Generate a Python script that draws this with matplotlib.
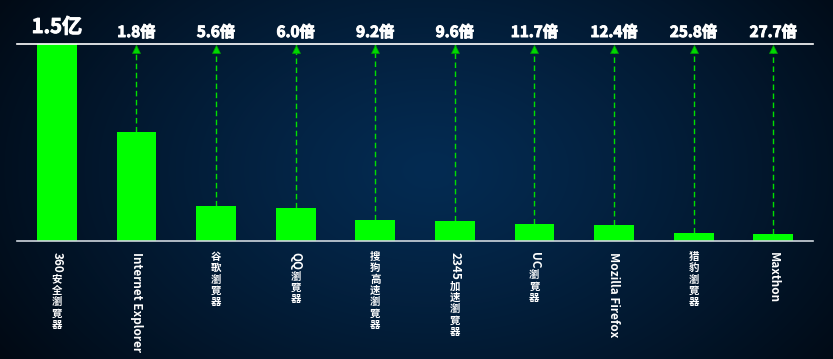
import numpy as np
import matplotlib
matplotlib.use("Agg")
import matplotlib.pyplot as plt
import matplotlib.patheffects as pe
from matplotlib.font_manager import FontProperties
from matplotlib.textpath import text_to_path
from matplotlib.transforms import offset_copy

plt.rcParams['font.family'] = ['Noto Sans CJK SC', 'DejaVu Sans']

# ---- data ----
browsers = ["360安全瀏覽器", "Internet Explorer", "谷歌瀏覽器", "QQ瀏覽器", "搜狗高速瀏覽器",
            "2345加速瀏覽器", "UC瀏覽器", "Mozilla Firefox", "猎豹瀏覽器", "Maxthon"]
users_yi = [1.5, 0.833, 0.268, 0.25, 0.163, 0.156, 0.128, 0.121, 0.058, 0.054]
ratio_labels = ["1.5亿", "1.8倍", "5.6倍", "6.0倍", "9.2倍", "9.6倍", "11.7倍", "12.4倍", "25.8倍", "27.7倍"]

W, H, DPI = 833, 359, 100
fig = plt.figure(figsize=(W / DPI, H / DPI), dpi=DPI)

# background radial gradient
bg = fig.add_axes([0, 0, 1, 1])
yy, xx = np.mgrid[0:H, 0:W]
cx, cy = 430, 170
r = np.sqrt(((xx - cx) / (W * 0.62)) ** 2 + ((yy - cy) / (H * 0.95)) ** 2)
r = np.clip(r, 0, 1) ** 1.2
c_in = np.array([0x04, 0x2b, 0x52]) / 255
c_out = np.array([0x01, 0x09, 0x13]) / 255
img = c_in[None, None, :] * (1 - r[..., None]) + c_out[None, None, :] * r[..., None]
bg.imshow(img, aspect='auto', extent=[0, W, H, 0])
bg.set_axis_off()

# main axes: x from 17 to 813 px, y from 241 (0) to 44 (1.5)
left, right = 17, 813
top, base = 44, 241
ax = fig.add_axes([left / W, (H - base) / H, (right - left) / W, (base - top) / H])
ax.patch.set_alpha(0)
n = len(browsers)
x = np.arange(n)
ax.set_xlim(-0.5, n - 0.5)
ax.set_ylim(0, 1.5)
ax.set_axis_off()

ax.bar(x, users_yi, width=0.5, color='#00ff00', zorder=3)

# lines
ax.plot([-0.5, n - 0.5], [1.5, 1.5], color='white', lw=1.2, clip_on=False, zorder=4)
ax.plot([-0.5, n - 0.5], [0, 0], color='#cfd6de', lw=1.2, clip_on=False, zorder=4)

# dashed arrows
tri_tr = offset_copy(ax.transData, fig=fig, y=-4.5, units='dots')
for i in range(1, n):
    ax.plot([x[i], x[i]], [users_yi[i], 1.5], color='#00e000', lw=1.0,
            linestyle=(0, (4, 2.5)), zorder=2)
    ax.plot([x[i]], [1.5], marker='^', markersize=5.5, color='#00d800',
            markeredgecolor='#00a000', markeredgewidth=0.5, transform=tri_tr, zorder=5)

stroke = [pe.withStroke(linewidth=0.7, foreground='white')]

# top labels
for i, lab in enumerate(ratio_labels):
    if i == 0:
        ax.annotate(lab, xy=(x[i], 1.5), xytext=(0, 7), textcoords='offset pixels',
                    ha='center', va='bottom', fontsize=14.5, fontweight='bold', color='white',
                    path_effects=stroke)
    else:
        ax.annotate(lab, xy=(x[i], 1.5), xytext=(0, 4), textcoords='offset pixels',
                    ha='center', va='bottom', fontsize=11, fontweight='bold', color='white',
                    path_effects=stroke)

# vertical category labels
fs_cjk = 7.5
fs_lat = 8.5
fp_lat = FontProperties(family='Noto Sans CJK SC', weight='bold', size=fs_lat)
em_px = fs_cjk * DPI / 72


def runs_of(s):
    out = []
    for ch in s:
        cjk = ord(ch) > 0x2E80
        if cjk:
            out.append((True, ch))
        else:
            if out and not out[-1][0]:
                out[-1] = (False, out[-1][1] + ch)
            else:
                out.append((False, ch))
    return out


for i, lab in enumerate(browsers):
    ypos = -11
    for cjk, txt in runs_of(lab):
        if cjk:
            ax.annotate(txt, xy=(x[i], 0), xytext=(0, ypos), textcoords='offset pixels',
                        ha='center', va='top', fontsize=fs_cjk, fontweight='bold', color='white',
                        annotation_clip=False)
            ypos -= em_px * 1.09
        else:
            w, h, d = text_to_path.get_text_width_height_descent(txt, fp_lat, ismath=False)
            wpx = w * DPI / 72
            ax.annotate(txt, xy=(x[i], 0), xytext=(0, ypos), textcoords='offset pixels',
                        ha='left', va='center', rotation=-90, rotation_mode='anchor',
                        fontsize=fs_lat, fontweight='bold', color='white', annotation_clip=False)
            ypos -= wpx + 1.5

fig.savefig('out.png', dpi=DPI)
